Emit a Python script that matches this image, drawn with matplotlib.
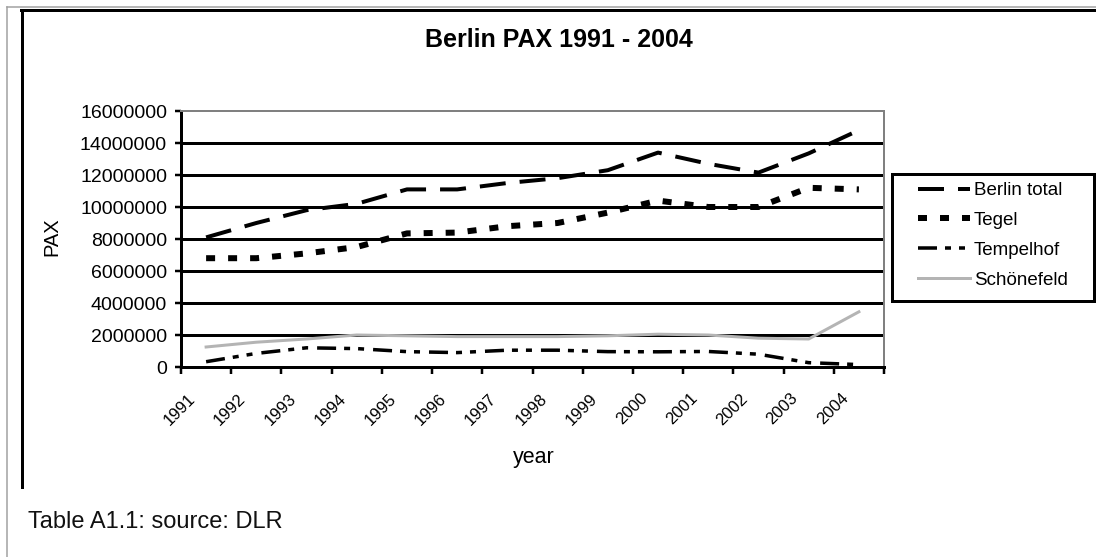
import matplotlib
matplotlib.use("Agg")
import matplotlib.pyplot as plt
from matplotlib.lines import Line2D
from matplotlib.patches import Rectangle
from matplotlib.ticker import FuncFormatter
from matplotlib.transforms import ScaledTranslation

plt.rcParams['font.family'] = ['Liberation Sans', 'DejaVu Sans']
plt.rcParams['lines.scale_dashes'] = False

# passengers per year, in millions
years = ['1991', '1992', '1993', '1994', '1995', '1996', '1997',
         '1998', '1999', '2000', '2001', '2002', '2003', '2004']
berlin_total = [8.1, 9.0, 9.8, 10.2, 11.1, 11.1, 11.5, 11.8, 12.3, 13.4, 12.7, 12.15, 13.35, 14.8]
tegel = [6.8, 6.8, 7.1, 7.5, 8.35, 8.4, 8.8, 9.0, 9.65, 10.4, 10.0, 10.0, 11.2, 11.1]
tempelhof = [0.33, 0.85, 1.2, 1.15, 0.96, 0.9, 1.05, 1.05, 0.96, 0.95, 0.97, 0.8, 0.27, 0.15]
schoenefeld = [1.25, 1.55, 1.75, 2.0, 1.95, 1.9, 1.9, 1.9, 1.95, 2.05, 2.0, 1.8, 1.75, 3.45]
y_max = 16000000
y_step = 2000000

W, H = 1096, 557


def px(v):
    # pixels -> points at 100 dpi
    return v * 0.72


fig = plt.figure(figsize=(W / 100, H / 100), dpi=100)
ax = fig.add_axes([181 / W, 1 - 367 / H, (884 - 181) / W, (367 - 111) / H])

x = list(range(len(years)))
mil = lambda s: [v * 1e6 for v in s]

ax.plot(x, mil(berlin_total), color='black', lw=px(4), dashes=(px(26), px(14)),
        dash_capstyle='butt', label='Berlin total')
ax.plot(x, mil(tegel), color='black', lw=px(6), dashes=(px(9), px(13)),
        dash_capstyle='butt', label='Tegel')
ax.plot(x, mil(tempelhof), color='black', lw=px(3.5),
        dashes=(px(19), px(8), px(6), px(8), px(6), px(9)),
        dash_capstyle='butt', label='Tempelhof')
ax.plot(x, mil(schoenefeld), color='#b4b4b4', lw=px(3), label='Schönefeld')

ax.set_xlim(-0.5, len(years) - 0.5)
ax.set_ylim(0, y_max)
ax.set_yticks(range(0, y_max + 1, y_step))
ax.yaxis.set_major_formatter(FuncFormatter(lambda v, p: f'{int(v)}'))

ax.grid(axis='y', color='black', lw=px(3))
gl = ax.get_ygridlines()
gl[0].set_visible(False)
gl[-1].set_visible(False)

for s in ('left', 'bottom'):
    ax.spines[s].set_color('black')
    ax.spines[s].set_linewidth(px(3))
for s in ('top', 'right'):
    ax.spines[s].set_color('#808080')
    ax.spines[s].set_linewidth(px(2))

ax.tick_params(axis='y', direction='out', length=px(6), width=px(2.5),
               labelsize=14, pad=px(8))
ax.set_xticks(x)
ax.set_xticks([i - 0.5 for i in range(len(years) + 1)], minor=True)
ax.set_xticklabels(years, rotation=45, ha='right', va='center',
                   rotation_mode='anchor', fontsize=12)
ax.tick_params(axis='x', which='major', length=0, pad=px(29))
ax.tick_params(axis='x', which='minor', direction='out', length=px(7), width=px(2.5))
shift = ScaledTranslation(-13 / 100, 0, fig.dpi_scale_trans)
for lbl in ax.get_xticklabels():
    lbl.set_transform(lbl.get_transform() + shift)

# titles and labels
fig.text(559 / W, 1 - 40 / H, 'Berlin PAX 1991 - 2004', ha='center', va='center',
         fontsize=18, fontweight='bold')
fig.text(52 / W, 1 - 237 / H, 'PAX', rotation=90, ha='center', va='center', fontsize=14.5)
fig.text(534 / W, 1 - 458 / H, 'year', ha='center', va='center', fontsize=15.5)
fig.text(28 / W, 1 - 522 / H, 'Table A1.1: source: DLR', ha='left', va='center',
         fontsize=17, color='#111111')

# chart frame and page border
fig.add_artist(Line2D([7 / W, 7 / W], [0, 1 - 7 / H], color='#a0a0a0', lw=px(1.5),
                      transform=fig.transFigure))
fig.add_artist(Line2D([7 / W, 1], [1 - 7 / H, 1 - 7 / H], color='#a0a0a0', lw=px(1.5),
                      transform=fig.transFigure))
fig.add_artist(Line2D([22 / W, 22 / W], [1 - 10 / H, 1 - 487 / H], color='black', lw=px(3),
                      transform=fig.transFigure))
fig.add_artist(Line2D([21 / W, 1], [1 - 10 / H, 1 - 10 / H], color='black', lw=px(3),
                      transform=fig.transFigure))

# legend
fig.add_artist(Rectangle((892 / W, 1 - 301 / H), (1094 - 892) / W, (301 - 174) / H,
                         fill=False, ec='black', lw=px(3), transform=fig.transFigure))
handles, labels = ax.get_legend_handles_labels()
fig.legend(handles, labels, loc='upper left', bbox_to_anchor=(918 / W, 1 - 182 / H),
           frameon=False, borderpad=0, borderaxespad=0, handlelength=2.77,
           handletextpad=0.2, labelspacing=0.68, fontsize=13.5)

fig.savefig('out.png', dpi=100)
